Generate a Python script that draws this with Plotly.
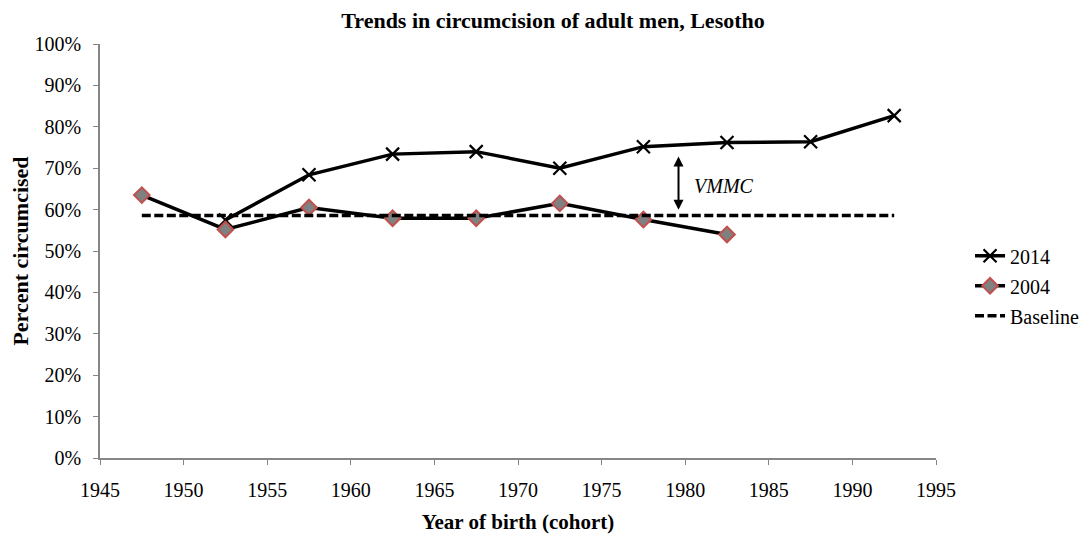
import plotly.graph_objects as go

years_2014 = [1952.5, 1957.5, 1962.5, 1967.5, 1972.5, 1977.5, 1982.5, 1987.5, 1992.5]
vals_2014 = [57.5, 68.4, 73.4, 74.0, 70.0, 75.2, 76.2, 76.4, 82.7]
years_2004 = [1947.5, 1952.5, 1957.5, 1962.5, 1967.5, 1972.5, 1977.5, 1982.5]
vals_2004 = [63.5, 55.2, 60.5, 57.9, 57.9, 61.5, 57.6, 54.0]
baseline_x = [1947.5, 1992.5]
baseline_val = [58.6, 58.6]
arrow_year = 1979.6
arrow_top, arrow_bottom = 72.8, 59.6
vmmc_pos = (1982.3, 65.6)

FONT = "Liberation Serif, Times New Roman, serif"

fig = go.Figure()
fig.add_trace(go.Scatter(
    x=years_2014, y=vals_2014, name="2014", mode="lines+markers", legendgroup="a",
    line=dict(color="black", width=3.5),
    marker=dict(symbol="x-thin-open", size=13, line=dict(color="black", width=2.2)),
))
fig.add_trace(go.Scatter(
    x=years_2004, y=vals_2004, name="2004", mode="lines+markers", legendgroup="b",
    line=dict(color="black", width=3.5),
    marker=dict(symbol="diamond", size=12, color="#808080", line=dict(color="#C0504D", width=2)),
))
fig.add_trace(go.Scatter(
    x=baseline_x, y=baseline_val, name="Baseline", mode="lines", legendgroup="c",
    line=dict(color="black", width=3.5, dash="9px,3.5px"),
))

fig.add_annotation(
    x=arrow_year, y=arrow_top, ax=arrow_year, ay=arrow_bottom,
    xref="x", yref="y", axref="x", ayref="y",
    text="", showarrow=True, arrowhead=2, arrowside="end+start",
    arrowwidth=2, arrowsize=1, arrowcolor="black",
)
fig.add_annotation(
    x=vmmc_pos[0], y=vmmc_pos[1], xref="x", yref="y",
    text="<i>VMMC</i>", showarrow=False,
    font=dict(family=FONT, size=20, color="black"),
)

tickfont = dict(family=FONT, size=20, color="black")
fig.update_layout(
    width=1090, height=536,
    margin=dict(l=92, r=162, t=36, b=86),
    paper_bgcolor="white", plot_bgcolor="white",
    font=dict(family=FONT, size=20, color="black"),
    title=dict(text="<b>Trends in circumcision of adult men, Lesotho</b>",
               x=0.5, xref="container", y=0.978, yanchor="middle",
               xanchor="center", pad=dict(t=0, b=0),
               font=dict(family=FONT, size=22, color="black")),
    showlegend=True,
    legend=dict(x=0.8826, y=0.574, xref="container", yref="container",
                xanchor="left", yanchor="top",
                font=dict(family=FONT, size=20, color="black"),
                bgcolor="rgba(0,0,0,0)", tracegroupgap=1),
    xaxis=dict(range=[1945, 1995], tick0=1945, dtick=5, showgrid=False, zeroline=False,
               showline=True, linecolor="#868686", linewidth=1.5,
               ticks="outside", ticklen=5, tickcolor="#868686", tickfont=tickfont,
               ticklabelstandoff=8, automargin=False,
               title=dict(text="<b>Year of birth (cohort)</b>", standoff=15,
                          font=dict(family=FONT, size=21))),
    yaxis=dict(range=[0, 100], dtick=10, ticksuffix="%", showgrid=False, zeroline=False,
               showline=True, linecolor="#868686", linewidth=1.5,
               ticks="outside", ticklen=5, tickcolor="#868686", tickfont=tickfont,
               ticklabelstandoff=8, automargin=False,
               title=dict(text="<b>Percent circumcised</b>", standoff=24,
                          font=dict(family=FONT, size=22))),
)

fig.write_html("out.html")
